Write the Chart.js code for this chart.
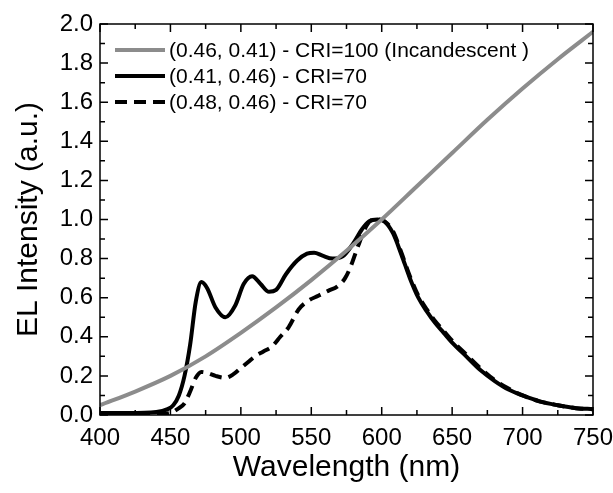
<!DOCTYPE html>
<html>
<head>
<meta charset="utf-8">
<script src="https://cdn.jsdelivr.net/npm/chart.js@4"></script>
<style>
  html, body { margin: 0; padding: 0; background: #fff; }
  #wrap { width: 613px; height: 493px; }
</style>
</head>
<body>
<div id="wrap"><canvas id="chart" width="613" height="493"></canvas></div>
<script>
// series labels
const seriesLabels = [
    "(0.46, 0.41) - CRI=100 (Incandescent )",
    "(0.41, 0.46) - CRI=70",
    "(0.48, 0.46) - CRI=70",
];

// incandescent reference (gray)
const incWavelength = [400, 425, 450, 475, 500, 525, 550, 575, 600, 625, 650, 675, 700, 725, 750];
const incValues = [0.05, 0.12, 0.20, 0.30, 0.42, 0.55, 0.69, 0.84, 1.00, 1.17, 1.34, 1.51, 1.67, 1.82, 1.96];

// CRI=70, (0.41, 0.46) solid
const solidWavelength = [400, 420, 440, 448, 452, 456, 460, 464, 468, 472, 476, 482, 489, 496, 502, 508, 514, 520, 525, 532, 540, 547, 552, 558, 565, 572, 580, 586, 591, 597, 602, 608, 614, 620, 626, 632, 638, 644, 650, 660, 670, 680, 690, 700, 712, 725, 738, 750];
const solidValues = [0.01, 0.01, 0.015, 0.03, 0.05, 0.10, 0.20, 0.36, 0.58, 0.68, 0.65, 0.55, 0.50, 0.56, 0.67, 0.71, 0.67, 0.63, 0.64, 0.72, 0.79, 0.825, 0.83, 0.815, 0.80, 0.81, 0.88, 0.95, 0.99, 1.00, 0.99, 0.93, 0.82, 0.70, 0.60, 0.53, 0.47, 0.42, 0.37, 0.30, 0.23, 0.175, 0.13, 0.10, 0.07, 0.05, 0.035, 0.03];

// CRI=70, (0.48, 0.46) dashed
const dashWavelength = [400, 420, 440, 450, 455, 460, 464, 468, 472, 476, 482, 489, 495, 500, 505, 510, 516, 522, 528, 534, 541, 548, 555, 562, 569, 574, 578, 583, 589, 594, 598, 602, 608, 614, 620, 626, 632, 638, 644, 650, 660, 670, 680, 690, 700, 712, 725, 738, 750];
const dashValues = [0.0, 0.0, 0.005, 0.01, 0.03, 0.06, 0.12, 0.19, 0.22, 0.215, 0.20, 0.19, 0.21, 0.24, 0.27, 0.30, 0.325, 0.35, 0.40, 0.45, 0.54, 0.585, 0.61, 0.635, 0.66, 0.70, 0.76, 0.86, 0.965, 1.00, 1.00, 0.99, 0.94, 0.83, 0.71, 0.61, 0.54, 0.48, 0.43, 0.38, 0.31, 0.24, 0.18, 0.135, 0.10, 0.07, 0.05, 0.035, 0.03];

const FONT = "'Liberation Sans', Arial, sans-serif";

function toPoints(xs, ys) {
    return xs.map((x, i) => ({ x: x, y: ys[i] }));
}

// frame + inward ticks on all four sides
const frameTicks = {
    id: 'frameTicks',
    afterDatasetsDraw(chart) {
        const { ctx, chartArea: a, scales } = chart;
        const xs = scales.x, ys = scales.y;
        ctx.save();
        ctx.strokeStyle = '#000';
        ctx.lineWidth = 1.5;
        ctx.strokeRect(a.left, a.top, a.right - a.left, a.bottom - a.top);
        ctx.beginPath();
        for (let v = 400; v <= 750; v += 25) {
            const px = xs.getPixelForValue(v);
            const len = v % 50 === 0 ? 8 : 5;
            ctx.moveTo(px, a.bottom); ctx.lineTo(px, a.bottom - len);
            ctx.moveTo(px, a.top); ctx.lineTo(px, a.top + len);
        }
        for (let i = 0; i <= 20; i++) {
            const py = ys.getPixelForValue(i / 10);
            const len = i % 2 === 0 ? 8 : 5;
            ctx.moveTo(a.left, py); ctx.lineTo(a.left + len, py);
            ctx.moveTo(a.right, py); ctx.lineTo(a.right - len, py);
        }
        ctx.stroke();
        ctx.restore();
    }
};

// legend inside the plot, top-left
const innerLegend = {
    id: 'innerLegend',
    afterDraw(chart) {
        const { ctx, chartArea: a } = chart;
        ctx.save();
        ctx.font = '21px ' + FONT;
        ctx.textBaseline = 'middle';
        chart.data.datasets.forEach((ds, i) => {
            const y = a.top + 26 + i * 26;
            ctx.beginPath();
            ctx.strokeStyle = ds.borderColor;
            ctx.lineWidth = ds.borderWidth;
            ctx.setLineDash(ds.borderDash || []);
            ctx.moveTo(a.left + 15, y);
            ctx.lineTo(a.left + 65, y);
            ctx.stroke();
            ctx.setLineDash([]);
            ctx.fillStyle = '#000';
            ctx.fillText(ds.label, a.left + 69, y + 1);
        });
        ctx.restore();
    }
};

const ctx = document.getElementById('chart').getContext('2d');
new Chart(ctx, {
    type: 'line',
    data: {
        datasets: [
            {
                label: seriesLabels[0],
                data: toPoints(incWavelength, incValues),
                borderColor: '#8c8c8c',
                borderWidth: 4,
            },
            {
                label: seriesLabels[1],
                data: toPoints(solidWavelength, solidValues),
                borderColor: '#000',
                borderWidth: 4,
            },
            {
                label: seriesLabels[2],
                data: toPoints(dashWavelength, dashValues),
                borderColor: '#000',
                borderWidth: 4,
                borderDash: [12, 7],
            },
        ],
    },
    options: {
        responsive: false,
        animation: false,
        layout: { padding: { top: 24, right: 20, left: 0, bottom: 0 } },
        elements: {
            point: { radius: 0 },
            line: { cubicInterpolationMode: 'monotone', fill: false },
        },
        plugins: {
            legend: { display: false },
            tooltip: { enabled: false },
        },
        scales: {
            x: {
                type: 'linear',
                min: 400, max: 750,
                grid: { display: false, drawTicks: false },
                border: { display: false },
                ticks: { stepSize: 50, padding: 9, color: '#000', font: { family: FONT, size: 24 } },
                title: { display: true, text: 'Wavelength (nm)', color: '#000', padding: { top: 0, bottom: 7 }, font: { family: FONT, size: 30 } },
                afterFit(scale) { scale.height = 78; scale.paddingLeft = 0; scale.paddingRight = 0; },
            },
            y: {
                min: 0, max: 2.0,
                grid: { display: false, drawTicks: false },
                border: { display: false },
                ticks: { stepSize: 0.2, padding: 7, color: '#000', font: { family: FONT, size: 24 },
                    callback: v => v.toFixed(1) },
                title: { display: true, text: 'EL Intensity (a.u.)', color: '#000', padding: { top: 11, bottom: 0 }, font: { family: FONT, size: 30 } },
                afterFit(scale) { scale.width = 100; scale.paddingTop = 0; scale.paddingBottom = 0; },
            },
        },
    },
    plugins: [frameTicks, innerLegend],
});
</script>
</body>
</html>
